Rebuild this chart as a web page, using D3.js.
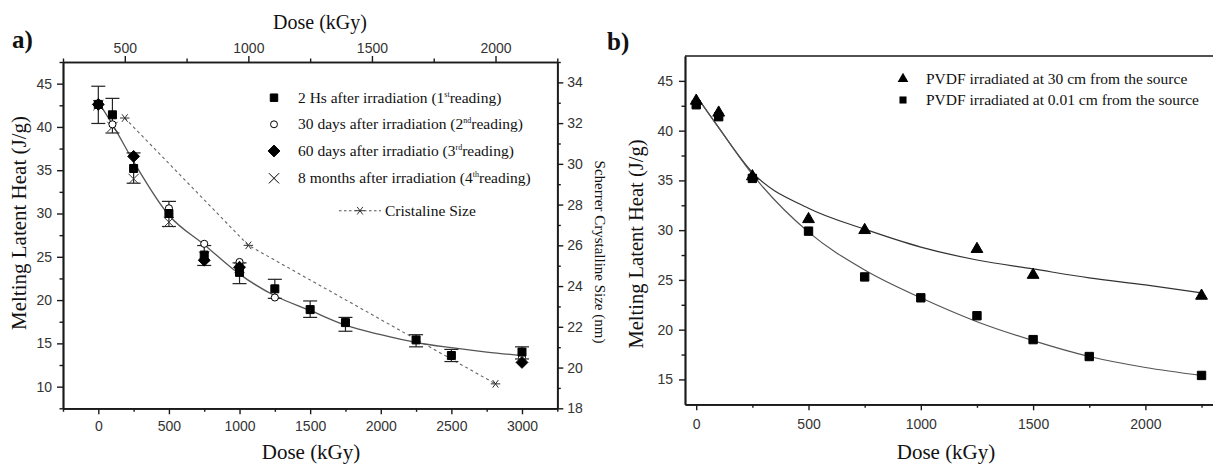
<!DOCTYPE html>
<html>
<head>
<meta charset="utf-8">
<script src="https://cdn.jsdelivr.net/npm/d3@7"></script>
<style>
  body { margin: 0; background: #fff; }
  svg { display: block; }
  .tick text { font-family: "Liberation Sans", Arial, sans-serif; font-size: 14px; fill: #333; }
  text.serif, text.serif tspan { font-family: "Liberation Serif", "Times New Roman", serif; fill: #111; }
</style>
</head>
<body>
<div id="chart"></div>
<script>
var width = 1213, height = 466
var serifFont = "'Liberation Serif', 'Times New Roman', serif"

// ---- panel a data ----
var doseA = [0, 100, 250, 500, 750, 1000, 1250, 1500, 1750, 2250, 2500, 3000]
var read1 = [42.6, 41.4, 35.2, 30.0, 25.2, 23.2, 21.3, 18.9, 17.4, 15.4, 13.6, 14.0]
var err1Lo = [40.4, 39.3, 33.5, 28.5, 24.0, 21.9, 20.2, 18.0, 16.4, 14.6, 12.9, 13.2]
var err1Hi = [44.7, 43.3, 37.0, 31.4, 26.3, 24.3, 22.4, 19.9, 18.0, 16.0, 14.3, 14.6]
var dose2 = [0, 100, 500, 750, 1000, 1250, 3000]
var read2 = [42.6, 40.3, 30.6, 26.5, 24.4, 20.3, 13.4]
var dose3 = [0, 250, 750, 1000, 3000]
var read3 = [42.6, 36.6, 24.6, 23.8, 12.8]
var dose4 = [0, 100, 250, 500, 750, 1000]
var read4 = [42.5, 40.0, 34.0, 29.0, 25.0, 23.7]
var fitDoseA = [0, 100, 250, 500, 750, 1000, 1250, 1500, 1750, 2000, 2250, 2500, 2750, 3000]
var fitA = [42.9, 40.3, 36.0, 29.8, 26.4, 23.0, 20.5, 18.8, 17.1, 16.0, 15.1, 14.5, 14.0, 13.6]
var crysDose = [500, 1000, 2000]
var crysSize = [32.25, 26.0, 19.2]

// ---- panel b data ----
var doseSq = [0, 100, 250, 500, 750, 1000, 1250, 1500, 1750, 2250]
var readSq = [42.6, 41.4, 35.2, 29.9, 25.3, 23.2, 21.4, 19.0, 17.3, 15.4]
var doseTri = [0, 100, 250, 500, 750, 1250, 1500, 2250]
var readTri = [43.0, 41.8, 35.4, 31.1, 30.0, 28.1, 25.5, 23.4]
var fitDoseB = [0, 100, 250, 500, 750, 1000, 1250, 1500, 1750, 2000, 2250]
var fitTri = [43.5, 40.3, 35.8, 32.2, 30.1, 28.3, 27.0, 26.1, 25.2, 24.5, 23.7]
var fitSq = [43.5, 40.3, 35.6, 29.8, 26.0, 23.2, 20.8, 18.9, 17.3, 16.2, 15.4]

var legendA = [
  ["2 Hs after irradiation (1", "st", "reading)"],
  ["30 days after irradiation (2", "nd", "reading)"],
  ["60 days after irradiatio (3", "rd", "reading)"],
  ["8 months after irradiation (4", "th", "reading)"]
]
var legendB = ["PVDF irradiated at 30 cm from the source", "PVDF irradiated at 0.01 cm from the source"]

var svg = d3.select("#chart").append("svg")
  .attr("width", width)
  .attr("height", height)
svg.append("rect").attr("width", width).attr("height", height).attr("fill", "#fff")

var ink = "#1a1a1a", curveCol = "#555"

function zip(xs, ys) { return xs.map(function(x, i) { return [x, ys[i]] }) }

function styleAxis(g) {
  g.select(".domain").attr("stroke", ink).attr("stroke-width", 1.7)
  g.selectAll(".tick line").attr("stroke", ink).attr("stroke-width", 1.4)
}

function serifText(x, y, size) {
  return svg.append("text").attr("class", "serif")
    .attr("x", x).attr("y", y)
    .attr("font-family", serifFont)
    .style("font-size", size + "px")
}

var timesSym = d3.symbolTimes || {
  draw: function(ctx, size) {
    var r = Math.sqrt(size) / 2
    ctx.moveTo(-r, -r); ctx.lineTo(r, r); ctx.moveTo(-r, r); ctx.lineTo(r, -r)
  }
}
var asteriskSym = {
  draw: function(ctx, size) {
    var r = Math.sqrt(size) / 2
    ctx.moveTo(-r, 0); ctx.lineTo(r, 0)
    ctx.moveTo(-r * 0.6, -r * 0.8); ctx.lineTo(r * 0.6, r * 0.8)
    ctx.moveTo(-r * 0.6, r * 0.8); ctx.lineTo(r * 0.6, -r * 0.8)
  }
}
// rotated square (even diamond)
var diamondSym = {
  draw: function(ctx, size) {
    var r = Math.sqrt(size / 2)
    ctx.moveTo(0, -r); ctx.lineTo(r, 0); ctx.lineTo(0, r); ctx.lineTo(-r, 0); ctx.closePath()
  }
}

// ================= panel a =================
var a = { left: 63, right: 557.3, top: 62, bottom: 408.3 }
var xA = d3.scaleLinear().domain([-250, 3250]).range([a.left, a.right])
var xTop = d3.scaleLinear().domain([250, 2250]).range([a.left, a.right])
var yA = d3.scaleLinear().domain([7.5, 47.5]).range([a.bottom, a.top])
var ySize = d3.scaleLinear().domain([18, 35]).range([a.bottom, a.top])

// minor ticks
svg.append("g").attr("transform", `translate(0,${a.bottom})`)
  .call(d3.axisBottom(xA).tickValues(d3.range(-250, 3300, 500)).tickSize(3.5).tickSizeOuter(0).tickFormat(""))
  .call(styleAxis)
svg.append("g").attr("transform", `translate(0,${a.top})`)
  .call(d3.axisTop(xTop).tickValues([250, 750, 1250, 1750, 2250]).tickSize(3.5).tickSizeOuter(0).tickFormat(""))
  .call(styleAxis)
svg.append("g").attr("transform", `translate(${a.left},0)`)
  .call(d3.axisLeft(yA).tickValues(d3.range(7.5, 48, 5)).tickSize(3.5).tickSizeOuter(0).tickFormat(""))
  .call(styleAxis)
svg.append("g").attr("transform", `translate(${a.right},0)`)
  .call(d3.axisRight(ySize).tickValues(d3.range(19, 36, 2)).tickSize(3.5).tickSizeOuter(0).tickFormat(""))
  .call(styleAxis)

// major ticks
svg.append("g").attr("transform", `translate(0,${a.bottom})`)
  .call(d3.axisBottom(xA).tickValues(d3.range(0, 3001, 500)).tickSize(6).tickSizeOuter(0).tickPadding(7).tickFormat(d3.format("d")))
  .call(styleAxis)
svg.append("g").attr("transform", `translate(0,${a.top})`)
  .call(d3.axisTop(xTop).tickValues([500, 1000, 1500, 2000]).tickSize(6).tickSizeOuter(0).tickPadding(3).tickFormat(d3.format("d")))
  .call(styleAxis)
svg.append("g").attr("transform", `translate(${a.left},0)`)
  .call(d3.axisLeft(yA).tickValues(d3.range(10, 46, 5)).tickSize(6).tickSizeOuter(0).tickPadding(5))
  .call(styleAxis)
svg.append("g").attr("transform", `translate(${a.right},0)`)
  .call(d3.axisRight(ySize).tickValues(d3.range(18, 35, 2)).tickSize(6).tickSizeOuter(0).tickPadding(4))
  .call(styleAxis)

// crystalline size dashed line
var lineCrys = d3.line().x(function(d) { return xTop(d[0]) }).y(function(d) { return ySize(d[1]) })
svg.append("path").datum(zip(crysDose, crysSize))
  .attr("d", lineCrys).attr("fill", "none").attr("stroke", "#666")
  .attr("stroke-width", 1.1).attr("stroke-dasharray", "3,3")
svg.selectAll(".crys").data(zip(crysDose, crysSize)).enter().append("path")
  .attr("transform", function(d) { return `translate(${xTop(d[0])},${ySize(d[1])})` })
  .attr("d", d3.symbol().type(asteriskSym).size(90))
  .attr("fill", "none").attr("stroke", "#333").attr("stroke-width", 1)

// fitted curve
var lineA = d3.line().curve(d3.curveMonotoneX).x(function(d) { return xA(d[0]) }).y(function(d) { return yA(d[1]) })
svg.append("path").datum(zip(fitDoseA, fitA))
  .attr("d", lineA).attr("fill", "none").attr("stroke", curveCol).attr("stroke-width", 1.3)

// error bars (1st reading)
var errG = svg.append("g").attr("stroke", "#222").attr("stroke-width", 1.2)
doseA.forEach(function(d, i) {
  var x = xA(d)
  errG.append("line").attr("x1", x).attr("x2", x).attr("y1", yA(err1Lo[i])).attr("y2", yA(err1Hi[i]))
  errG.append("line").attr("x1", x - 7).attr("x2", x + 7).attr("y1", yA(err1Lo[i])).attr("y2", yA(err1Lo[i]))
  errG.append("line").attr("x1", x - 7).attr("x2", x + 7).attr("y1", yA(err1Hi[i])).attr("y2", yA(err1Hi[i]))
})

function drawMarks(xs, ys, xScale, yScale, type, size, filled) {
  svg.append("g").selectAll("path").data(zip(xs, ys)).enter().append("path")
    .attr("transform", function(d) { return `translate(${xScale(d[0])},${yScale(d[1])})` })
    .attr("d", d3.symbol().type(type).size(size))
    .attr("fill", filled ? "#000" : "#fff")
    .attr("stroke", filled === null ? "#333" : "#000")
    .attr("stroke-width", 1)
}
drawMarks(dose4, read4, xA, yA, timesSym, 70, null)
drawMarks(dose2, read2, xA, yA, d3.symbolCircle, 40, false)
drawMarks(doseA, read1, xA, yA, d3.symbolSquare, 64, true)
drawMarks(dose3, read3, xA, yA, diamondSym, 70, true)

// legend a
var legSyms = [[d3.symbolSquare, 56, true], [d3.symbolCircle, 38, false], [diamondSym, 70, true], [timesSym, 70, null]]
var rowsA = [97.7, 124.3, 151, 178.3]
legendA.forEach(function(t, i) {
  var s = legSyms[i]
  svg.append("path")
    .attr("transform", `translate(274,${rowsA[i]})`)
    .attr("d", d3.symbol().type(s[0]).size(s[1]))
    .attr("fill", s[2] === null ? "none" : (s[2] ? "#000" : "#fff"))
    .attr("stroke", "#000").attr("stroke-width", 1)
  var txt = serifText(298, rowsA[i] + 5, 15.5)
  txt.append("tspan").text(t[0])
  txt.append("tspan").text(t[1]).attr("dy", -6).style("font-size", "8px")
  txt.append("tspan").text(t[2]).attr("dy", 6)
})
svg.append("line").attr("x1", 339).attr("x2", 381).attr("y1", 210.7).attr("y2", 210.7)
  .attr("stroke", "#555").attr("stroke-width", 1.1).attr("stroke-dasharray", "2.5,2.5")
svg.append("path").attr("transform", "translate(360,210.7)")
  .attr("d", d3.symbol().type(asteriskSym).size(90))
  .attr("fill", "none").attr("stroke", "#333").attr("stroke-width", 1)
serifText(385, 216, 15.5).text("Cristaline Size")

// titles a
serifText(12, 48, 25).style("font-weight", "bold").text("a)")
serifText(320, 29, 20).attr("text-anchor", "middle").text("Dose (kGy)")
serifText(311, 459, 21).attr("text-anchor", "middle").text("Dose (kGy)")
serifText(0, 0, 21).attr("transform", "translate(26,223) rotate(-90)")
  .attr("text-anchor", "middle").text("Melting Latent Heat (J/g)")
serifText(0, 0, 15).attr("transform", "translate(595,252) rotate(90)")
  .attr("text-anchor", "middle").text("Scherrer Crystalline Size (nm)")

// ================= panel b =================
var b = { left: 685, right: 1224, top: 56, bottom: 404.3 }
var xB = d3.scaleLinear().domain([-50, 2350]).range([b.left, b.right])
var yB = d3.scaleLinear().domain([12.5, 47.5]).range([b.bottom, b.top])

svg.append("line").attr("x1", b.left).attr("x2", b.right).attr("y1", b.top).attr("y2", b.top)
  .attr("stroke", ink).attr("stroke-width", 1.7)
svg.append("line").attr("x1", b.right).attr("x2", b.right).attr("y1", b.top).attr("y2", b.bottom)
  .attr("stroke", ink).attr("stroke-width", 1.7)

svg.append("g").attr("transform", `translate(0,${b.bottom})`)
  .call(d3.axisBottom(xB).tickValues(d3.range(250, 2300, 500)).tickSize(3.5).tickSizeOuter(0).tickFormat(""))
  .call(styleAxis)
svg.append("g").attr("transform", `translate(${b.left},0)`)
  .call(d3.axisLeft(yB).tickValues(d3.range(17.5, 46, 5)).tickSize(3.5).tickSizeOuter(0).tickFormat(""))
  .call(styleAxis)
svg.append("g").attr("transform", `translate(0,${b.bottom})`)
  .call(d3.axisBottom(xB).tickValues(d3.range(0, 2001, 500)).tickSize(6).tickSizeOuter(0).tickPadding(9).tickFormat(d3.format("d")))
  .call(styleAxis)
svg.append("g").attr("transform", `translate(${b.left},0)`)
  .call(d3.axisLeft(yB).tickValues(d3.range(15, 46, 5)).tickSize(6).tickSizeOuter(0).tickPadding(6))
  .call(styleAxis)

var lineB = d3.line().curve(d3.curveMonotoneX).x(function(d) { return xB(d[0]) }).y(function(d) { return yB(d[1]) })
svg.append("path").datum(zip(fitDoseB, fitTri))
  .attr("d", lineB).attr("fill", "none").attr("stroke", "#333").attr("stroke-width", 1.2)
svg.append("path").datum(zip(fitDoseB, fitSq))
  .attr("d", lineB).attr("fill", "none").attr("stroke", curveCol).attr("stroke-width", 1.2)

drawMarks(doseTri, readTri, xB, yB, d3.symbolTriangle, 60, true)
drawMarks(doseSq, readSq, xB, yB, d3.symbolSquare, 70, true)

// legend b
var rowsB = [79, 100]
var legSymsB = [[d3.symbolTriangle, 50], [d3.symbolSquare, 50]]
legendB.forEach(function(t, i) {
  svg.append("path").attr("transform", `translate(903,${rowsB[i]})`)
    .attr("d", d3.symbol().type(legSymsB[i][0]).size(legSymsB[i][1]))
    .attr("fill", "#000")
  serifText(926, rowsB[i] + 5, 15.5).text(t)
})

serifText(607, 50, 25).style("font-weight", "bold").text("b)")
serifText(946, 459, 21).attr("text-anchor", "middle").text("Dose (kGy)")
serifText(0, 0, 20.5).attr("transform", "translate(643,244) rotate(-90)")
  .attr("text-anchor", "middle").text("Melting Latent Heat (J/g)")
</script>
</body>
</html>
